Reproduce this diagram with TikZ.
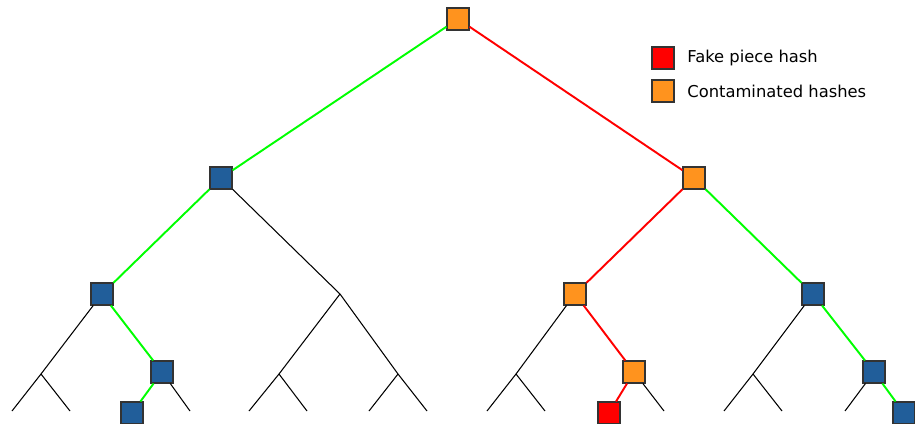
\documentclass[tikz,border=0pt]{standalone}
\usepackage{fontspec}
\setmainfont{DejaVu Sans}

\definecolor{hashblue}{HTML}{215E9A}
\definecolor{hashorange}{HTML}{FF931E}
\definecolor{hashred}{HTML}{FF0000}
\definecolor{okgreen}{HTML}{00FF00}

\tikzset{
  hashbox/.style={rectangle, draw=black!80, line width=0.6pt, inner sep=0pt, minimum size=0.44cm},
  goodhash/.style={hashbox, fill=hashblue},
  badhash/.style={hashbox, fill=hashorange},
  fakehash/.style={hashbox, fill=hashred},
  plain/.style={black, line width=0.6pt},
  okpath/.style={okgreen, line width=1.1pt},
  badpath/.style={hashred, line width=1.1pt},
  legendtext/.style={anchor=west, inner sep=0pt, font=\fontsize{9.3pt}{11pt}\selectfont}
}

\begin{document}
\begin{tikzpicture}[x=0.02cm, y=-0.02cm]
	\useasboundingbox (0,0) rectangle (915,423);
	\clip (0,0) rectangle (915,423);

	% Root hash
	\node[badhash] (root) at (458,19) {};

	% First level
	\node[goodhash] (l) at (221,178) {};
	\node[badhash] (r) at (694,178) {};

	% Second level
	\node[goodhash] (ll) at (102,294) {};
	\coordinate (lr) at (340,294);
	\node[badhash] (rl) at (575,294) {};
	\node[goodhash] (rr) at (813,294) {};

	% Third level
	\coordinate (lll) at (41,374);
	\node[goodhash] (llr) at (162,372) {};
	\coordinate (lrl) at (279,374);
	\coordinate (lrr) at (398,374);
	\coordinate (rll) at (516,374);
	\node[badhash] (rlr) at (634,372) {};
	\coordinate (rrl) at (753,374);
	\node[goodhash] (rrr) at (874,372) {};

	% Leaves
	\coordinate (llll) at (12,411);
	\coordinate (lllr) at (70,411);
	\node[goodhash] (llrl) at (132,413) {};
	\coordinate (llrr) at (190,411);
	\coordinate (lrll) at (249,411);
	\coordinate (lrlr) at (307,411);
	\coordinate (lrrl) at (369,411);
	\coordinate (lrrr) at (427,411);
	\coordinate (rlll) at (487,411);
	\coordinate (rllr) at (545,411);
	\node[fakehash] (rlrl) at (609,413) {};
	\coordinate (rlrr) at (664,411);
	\coordinate (rrll) at (724,411);
	\coordinate (rrlr) at (782,411);
	\coordinate (rrrl) at (845,411);
	\node[goodhash] (rrrr) at (904,413) {};

	% Verified branches
	\draw[okpath] (root) -- (l);
	\draw[okpath] (l) -- (ll);
	\draw[okpath] (ll) -- (llr);
	\draw[okpath] (llr) -- (llrl);
	\draw[okpath] (r) -- (rr);
	\draw[okpath] (rr) -- (rrr);
	\draw[okpath] (rrr) -- (rrrr);

	% Contaminated branches
	\draw[badpath] (root) -- (r);
	\draw[badpath] (r) -- (rl);
	\draw[badpath] (rl) -- (rlr);
	\draw[badpath] (rlr) -- (rlrl);

	% Remaining tree
	\draw[plain] (l) -- (lr);
	\draw[plain] (ll) -- (lll);
	\draw[plain] (lr) -- (lrl);
	\draw[plain] (lr) -- (lrr);
	\draw[plain] (rl) -- (rll);
	\draw[plain] (rr) -- (rrl);
	\draw[plain] (llr) -- (llrr);
	\draw[plain] (rlr) -- (rlrr);
	\draw[plain] (rrr) -- (rrrl);
	\foreach \n in {lll, lrl, lrr, rll, rrl} {
		\draw[plain] (\n) -- (\n l);
		\draw[plain] (\n) -- (\n r);
	}

	% Legend
	\node[fakehash] (fakekey) at (663,58) {};
	\node[legendtext] (faketext) at (687,58) {Fake piece hash};
	\node[badhash] (badkey) at (663,91) {};
	\node[legendtext] (badtext) at (687,91) {Contaminated hashes};
\end{tikzpicture}
\end{document}
